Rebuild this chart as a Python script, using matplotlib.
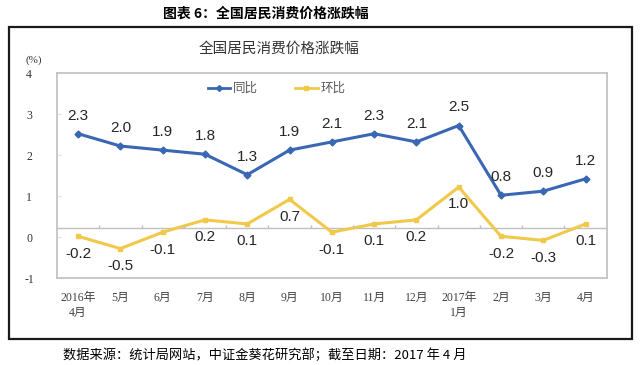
"""
CPI year-on-year / month-on-month chart.
"""

import numpy as np
import matplotlib
matplotlib.use("Agg")
import matplotlib.pyplot as plt
from matplotlib.lines import Line2D
from matplotlib.patches import Rectangle


plt.rcParams["font.family"] = ["Liberation Sans", "Noto Sans CJK SC"]

months = [
    "2016年\n4月", "5月", "6月", "7月", "8月", "9月", "10月",
    "11月", "12月", "2017年\n1月", "2月", "3月", "4月"
]

yoy = [2.3, 2.0, 1.9, 1.8, 1.3, 1.9, 2.1, 2.3, 2.1, 2.5, 0.8, 0.9, 1.2]

mom = [-0.2, -0.5, -0.1, 0.2, 0.1, 0.7, -0.1, 0.1, 0.2, 1.0, -0.2, -0.3, 0.1]

ytick_labels = [-1, 0, 1, 2, 3, 4]

# the original tick labels sit about 0.22 below the true value positions
tick_shift = 0.22

blue = "#3A67B4"
yellow = "#F0C94A"
serif = ["Liberation Serif", "Noto Sans CJK SC"]


fig = plt.figure(figsize=(6.4, 3.65), dpi=100)

# outer frame
fig.patches.append(
    Rectangle(
        (0.014, 0.071), 0.973, 0.855,
        transform=fig.transFigure,
        fill=False,
        edgecolor="#1a1a1a",
        linewidth=1.6
    )
)

fig.text(
    0.416, 0.962,
    "图表 6：全国居民消费价格涨跌幅",
    ha="center", va="center",
    fontsize=10, fontweight="bold",
    family=["Noto Sans CJK SC"]
)

fig.text(
    0.436, 0.866,
    "全国居民消费价格涨跌幅",
    ha="center", va="center",
    fontsize=10.5, color="#333333",
    family=["Noto Sans CJK SC"]
)

fig.text(
    0.413, 0.027,
    "数据来源：统计局网站，中证金葵花研究部；截至日期：2017 年 4 月",
    ha="center", va="center",
    fontsize=9.5,
    family=["Noto Sans CJK SC"]
)

fig.text(
    0.052, 0.834, "(%)",
    ha="center", va="center",
    fontsize=8, color="#333333",
    family=serif
)

ax = fig.add_axes([0.089, 0.238, 0.859, 0.562])

x = np.arange(len(months))

ax.plot(
    x, yoy,
    color=blue, linewidth=2.2,
    marker="D", markersize=3.5
)

ax.plot(
    x, mom,
    color=yellow, linewidth=2.2,
    marker="s", markersize=3.5
)

for i in range(len(months)):

    ax.annotate(
        f"{yoy[i]:.1f}",
        (x[i], yoy[i]),
        xytext=(0, 13),
        textcoords="offset points",
        ha="center", va="center",
        fontsize=11, color="#262626"
    )

    ax.annotate(
        f"{mom[i]:.1f}",
        (x[i], mom[i]),
        xytext=(0, -12.5),
        textcoords="offset points",
        ha="center", va="center",
        fontsize=11, color="#262626"
    )

# zero line with small category separators
ax.axhline(0, color="#BFBFBF", linewidth=1, zorder=1)
ax.vlines(
    x[:-1] + 0.5, 0, 0.07,
    color="#BFBFBF", linewidth=1
)

ax.set_xlim(-0.5, len(months) - 0.5)
ax.set_ylim(-1.22, 3.78)

ax.set_xticks(x)
ax.set_xticklabels(months, family=serif, fontsize=8.5, color="#404040",
                   linespacing=1.3, va="top")
ax.tick_params(axis="x", length=0, pad=10)

ax.set_yticks([t - tick_shift for t in ytick_labels])
ax.set_yticklabels([str(t) for t in ytick_labels], family=serif,
                   fontsize=8.5, color="#333333")
ax.tick_params(axis="y", direction="in", length=3, color="#E0E0E0", pad=20)
for lab in ax.get_yticklabels():
    lab.set_horizontalalignment("center")

for spine in ax.spines.values():
    spine.set_color("#BFBFBF")
    spine.set_linewidth(1.2)

handles = [
    Line2D([], [], color=blue, linewidth=2, marker="D", markersize=3),
    Line2D([], [], color=yellow, linewidth=2, marker="s", markersize=3)
]

fig.legend(
    handles, ["同比", "环比"],
    loc="center",
    bbox_to_anchor=(0.432, 0.757),
    ncol=2,
    frameon=False,
    labelcolor="#595959",
    handlelength=1.8,
    handletextpad=0.2,
    columnspacing=3,
    prop={"family": ["Noto Sans CJK SC"], "size": 9}
)

fig.savefig("out.png", dpi=100)
